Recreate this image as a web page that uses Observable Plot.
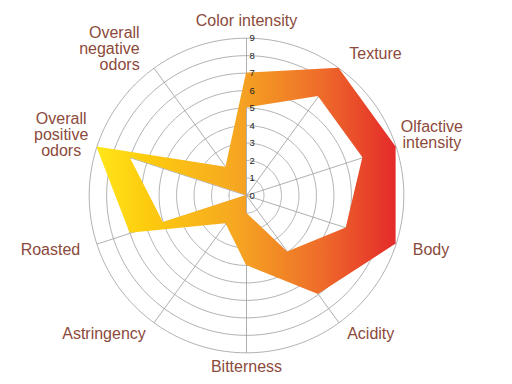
<!DOCTYPE html>
<html>
<head>
<meta charset="utf-8">
<script src="https://cdn.jsdelivr.net/npm/d3@7"></script>
<script src="https://cdn.jsdelivr.net/npm/@observablehq/plot@0.6"></script>
<style>
  body { margin: 0; background: #fff; }
</style>
</head>
<body>
<div id="chart"></div>
<script>
// ---- data ----
const categories = ["Color intensity", "Texture", "Olfactive intensity", "Body", "Acidity",
  "Bitterness", "Astringency", "Roasted", "Overall positive odors", "Overall negative odors"];
const labels = ["Color intensity", "Texture", "Olfactive\nintensity", "Body", "Acidity",
  "Bitterness", "Astringency", "Roasted", "Overall\npositive\nodors", "Overall\nnegative\nodors"];
const maxValues = [7, 9, 9, 9, 7, 4, 2, 7, 9, 2];
const minValues = [5, 7, 7, 6, 4, 1, 0, 5, 7, 0];
const ticks = [0, 1, 2, 3, 4, 5, 6, 7, 8, 9];
const gridLevels = [1, 2, 3, 4, 5, 6, 7, 8, 9];

// ---- polar mapping through an azimuthal projection ----
const K = 0.1;                         // degrees of arc per unit
const step = 360 / categories.length;
const lon = i => 180 - step * i;       // clockwise from the top
const lat = v => 90 - v * K;

const rows = categories.map((c, i) => ({
  cat: c, label: labels[i], i, max: maxValues[i], min: minValues[i]
}));
const ring = [...rows, rows[0]];

const sinA = d => Math.sin(step * d.i * Math.PI / 180);
const cosA = d => Math.cos(step * d.i * Math.PI / 180);
const multi = d => d.label.includes("\n");
const anchorOf = d => {
  if (multi(d) && Math.abs(sinA(d)) > 0.9) return "middle";
  if (sinA(d) > 0.1) return "start";
  if (sinA(d) < -0.1) return "end";
  return "middle";
};
const labelR = d => {
  if (multi(d)) return anchorOf(d) === "middle" ? 11.15 : 10.4;
  if (cosA(d) < -0.5) return 9.8;
  return 10;
};

const labelColor = "#8B4A3B";
const labelMark = anchor => Plot.text(rows, {
  filter: d => anchorOf(d) === anchor,
  x: d => lon(d.i),
  y: d => lat(labelR(d)),
  text: "label",
  textAnchor: anchor,
  fontSize: 16,
  lineHeight: 1.0,
  fill: labelColor
});

const svg = Plot.plot({
  width: 512,
  height: 384,
  marginLeft: 0,
  marginRight: 20,
  marginTop: 8,
  marginBottom: 2,
  projection: {
    type: "azimuthal-equidistant",
    rotate: [0, -90],
    domain: d3.geoCircle().center([0, 90]).radius(10.7 * K)()
  },
  style: { background: "white", fontFamily: "'Liberation Sans', Arial, Helvetica, sans-serif" },
  marks: [
    Plot.geo(gridLevels, {
      geometry: r => d3.geoCircle().center([0, 90]).radius(r * K).precision(1)(),
      stroke: "#9c9c9c",
      strokeWidth: 0.8,
      fill: "none"
    }),
    Plot.link(rows, {
      x1: d => lon(d.i),
      y1: lat(9),
      x2: 0,
      y2: 90,
      stroke: "#9c9c9c",
      strokeWidth: 0.8
    }),
    Plot.area(ring, {
      x1: d => lon(d.i),
      y1: d => lat(d.max),
      x2: d => lon(d.i),
      y2: d => lat(d.min),
      fill: "url(#band)",
      curve: "linear"
    }),
    Plot.text(ticks, {
      x: 180,
      y: d => lat(d),
      text: d => String(d),
      dx: 3,
      textAnchor: "start",
      fontSize: 9.5,
      fill: "#222"
    }),
    labelMark("start"),
    labelMark("end"),
    labelMark("middle")
  ]
});

const defs = d3.select(svg).insert("defs", ":first-child");
const grad = defs.append("linearGradient")
  .attr("id", "band")
  .attr("x1", "0").attr("y1", "0").attr("x2", "1").attr("y2", "0");
[[0, "#FFE619"], [0.17, "#FDCB0E"], [0.46, "#F6A821"], [0.75, "#EE6C2A"], [1, "#E42A2A"]]
  .forEach(([o, c]) => grad.append("stop").attr("offset", o).attr("stop-color", c));

document.getElementById("chart").appendChild(svg);
</script>
</body>
</html>
